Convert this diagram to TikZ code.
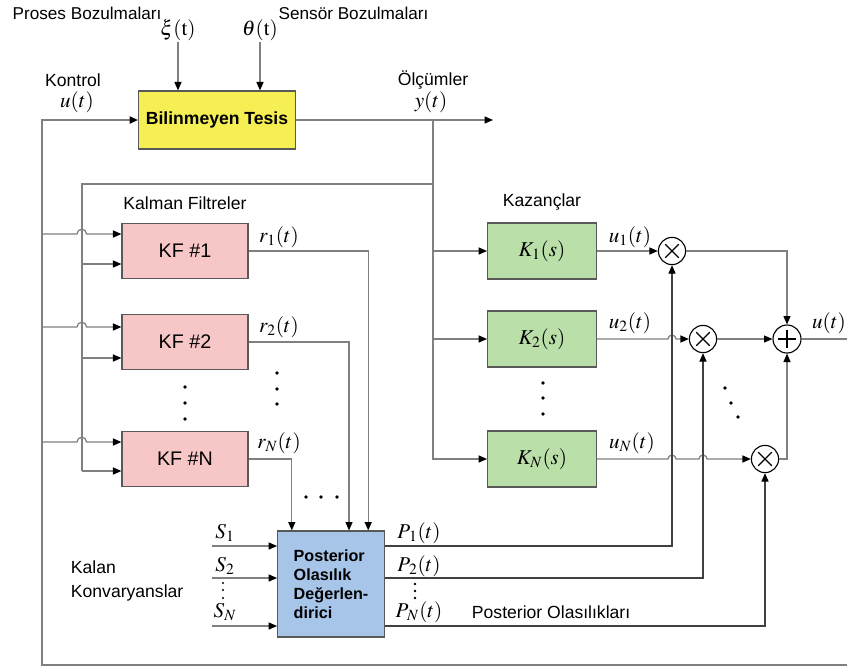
\documentclass[tikz,border=0pt]{standalone}
\usepackage{mathptmx}
\usepackage[no-math]{fontspec}
\setmainfont{Liberation Sans}
\usetikzlibrary{positioning,arrows.meta}

\definecolor{tesisyellow}{RGB}{246,239,84}
\definecolor{kfpink}{RGB}{247,199,200}
\definecolor{kgreen}{RGB}{186,223,169}
\definecolor{peblue}{RGB}{167,197,232}
\definecolor{wiregray}{RGB}{128,128,128}

\begin{document}
\begin{tikzpicture}[x=0.025cm,y=-0.025cm,>={Triangle[length=6pt,width=5pt,color=black]},
		font=\fontsize{12.5}{15}\selectfont,
		box/.style={draw=black!65,line width=0.8pt},
		plant/.style={box,fill=tesisyellow,minimum width=3.92cm,minimum height=1.45cm,font=\fontsize{12.5}{15}\selectfont\bfseries},
		kf/.style={box,fill=kfpink,minimum width=3.15cm,minimum height=1.375cm,font=\fontsize{14}{16}\selectfont},
		gain/.style={box,fill=kgreen,minimum width=2.72cm,minimum height=1.4cm,font=\fontsize{15}{17}\selectfont},
		post/.style={box,fill=peblue,minimum width=2.67cm,minimum height=2.65cm,align=left,font=\fontsize{11.5}{13.4}\selectfont\bfseries},
		mult/.style={circle,draw,line width=0.8pt,fill=white,minimum size=0.68cm,inner sep=0pt,
			path picture={\draw[line width=0.8pt] (path picture bounding box.center) +(-0.17cm,-0.17cm) -- +(0.17cm,0.17cm) +(-0.17cm,0.17cm) -- +(0.17cm,-0.17cm);}},
		adder/.style={circle,draw,line width=0.8pt,fill=white,minimum size=0.7cm,inner sep=0pt,
			path picture={\draw[line width=1pt] (path picture bounding box.center) +(-0.22cm,0) -- +(0.22cm,0) +(0,-0.22cm) -- +(0,0.22cm);}},
		mth/.style={font=\fontsize{15}{17}\selectfont,inner sep=0.5pt},
		wire/.style={draw=wiregray,line width=0.9pt},
		pwire/.style={draw=black!75,line width=0.8pt},
		fb/.style={draw=wiregray,line width=1.3pt}]
	\useasboundingbox (0,0) rectangle (847,667);

	% blocks
	\node[plant] (plant) at (217,120) {Bilinmeyen Tesis};
	\node[kf] (kf1) at (185,251) {KF \#1};
	\node[kf] (kf2) at (185,342) {KF \#2};
	\node[kf] (kfn) at (185,459) {KF \#N};
	\node[gain] (k1) at (542,251) {$K_1(s)$};
	\node[gain] (k2) at (542,339) {$K_2(s)$};
	\node[gain] (kn) at (542,459) {$K_N(s)$};
	\node[mult] (m1) at (672,251) {};
	\node[mult] (m2) at (703,339) {};
	\node[mult] (mn) at (765,459) {};
	\node[adder] (sum) at (787,339) {};
	\node[post] (pe) at (331,584) {Posterior\\Olasılık\\Değerlen-\\dirici};

	% labels
	\node[anchor=west,inner sep=1pt,font=\fontsize{12.2}{15}\selectfont] (lproses) at (11,13) {Proses Bozulmaları};
	\node[anchor=west,inner sep=1pt,font=\fontsize{12.2}{15}\selectfont] (lsensor) at (277,13) {Sensör Bozulmaları};
	\node[mth] (xi) at (178,30) {$\xi(\mathrm{t})$};
	\node[mth] (theta) at (260,30) {$\theta(\mathrm{t})$};
	\node (lkontrol) at (73,80) {Kontrol};
	\node[mth] (lu) at (77,102) {$u(t)$};
	\node (lolcum) at (433,80) {Ölçümler};
	\node[mth] (ly) at (431,102) {$y(t)$};
	\node[above=6pt of kf1] (lkf) {Kalman Filtreler};
	\node[above=5pt of k1] (lkaz) {Kazançlar};
	\node[mth] (lr1) at (279,237) {$r_1(t)$};
	\node[mth] (lr2) at (279,327) {$r_2(t)$};
	\node[mth] (lrn) at (279,443) {$r_N(t)$};
	\node[mth] (lu1) at (630,237) {$u_1(t)$};
	\node[mth] (lu2) at (630,323) {$u_2(t)$};
	\node[mth] (lun) at (632,443) {$u_N(t)$};
	\node[mth] (lsum) at (829,323) {$u(t)$};
	\node[mth] (ls1) at (225,533) {$S_1$};
	\node[mth] (ls2) at (225,566) {$S_2$};
	\node[mth] (lsn) at (225,612) {$S_N$};
	\node[mth] (lp1) at (419,533) {$P_{\kern1pt 1}(t)$};
	\node[mth] (lp2) at (419,566) {$P_{\kern1pt 2}(t)$};
	\node[mth] (lpn) at (419,612) {$P_{\kern1pt N}(t)$};
	\node[anchor=west] (lpost) at (467,612) {Posterior Olasılıkları};
	\node[anchor=west,align=left,font=\fontsize{12.5}{17}\selectfont] (lkalan) at (66,581) {Kalan\\Konvaryanslar};

	% plant in/out
	\coordinate (fbtop) at (42,120);
	\coordinate (fbend) at (847,665);
	\coordinate (ytap) at (433,120);
	\coordinate (yend) at (493,120);
	\coordinate (ybus) at (82,184);
	\draw[wire,->] (xi) -- (xi |- plant.north);
	\draw[wire,->] (theta) -- (theta |- plant.north);
	\draw[fb,->] (fbend) -| (fbtop) -- (plant.west);
	\draw[wire,->] (plant.east) -- (yend);

	% filter inputs
	\foreach \n/\yc/\ym in {1/234/264,2/327/358,n/442/471}{
		\coordinate (cu\n) at (42,\yc);
		\coordinate (cy\n) at (82,\ym);
		\draw[wire,->] (cu\n) -- ++(35,0) arc[start angle=180,end angle=0,radius=0.12cm] -- (kf\n.west |- cu\n);
		\draw[wire,->] (cy\n) -- (kf\n.west |- cy\n);
	}
	\draw[wire] (ytap |- ybus) -- (ybus) -- (cyn);

	% gains
	\draw[wire,->] (ytap) |- (kn.west);
	\draw[wire,->] (ytap |- k1.west) -- (k1.west);
	\draw[wire,->] (ytap |- k2.west) -- (k2.west);
	\draw[wire,->] (k1.east) -- (m1.west);
	\draw[wire,->] (k2.east) -- (668,339) arc[start angle=180,end angle=0,radius=0.1cm] -- (m2.west);
	\draw[wire,->] (kn.east) -- (668,459) arc[start angle=180,end angle=0,radius=0.1cm]
		-- (699,459) arc[start angle=180,end angle=0,radius=0.1cm] -- (mn.west);
	\draw[wire,->] (m1.east) -| (sum.north);
	\draw[wire,->] (m2.east) -- (sum.west);
	\draw[wire,->] (mn.east) -| (sum.south);
	\draw[wire] (sum.east) -- (847,339);

	% residuals to the estimator
	\draw[wire,->] (kf1.east) -| ([xshift=0.93cm]pe.north);
	\draw[wire,->] (kf2.east) -| ([xshift=0.45cm]pe.north);
	\draw[wire,->] (kfn.east) -| ([xshift=-0.98cm]pe.north);

	% covariances in, probabilities out
	\coordinate (s1) at (212,546);
	\coordinate (s2) at (212,578);
	\coordinate (sn) at (212,626);
	\draw[wire,->] (s1) -- (s1 -| pe.west);
	\draw[wire,->] (s2) -- (s2 -| pe.west);
	\draw[wire,->] (sn) -- (sn -| pe.west);
	\draw[pwire,->] (s1 -| pe.east) -| (m1.south);
	\draw[pwire,->] (s2 -| pe.east) -| (m2.south);
	\draw[pwire,->] (sn -| pe.east) -| (mn.south);

	% dots
	\foreach \y in {387,403,419} \fill (185,\y) circle (1.8);
	\foreach \y in {373,389,404} \fill (277,\y) circle (1.8);
	\foreach \x in {306,321,337} \fill (\x,497) circle (1.8);
	\foreach \y in {383,398,414} \fill (543,\y) circle (1.8);
	\fill (725,388) circle (1.8) (731,403) circle (1.8) (738,417) circle (1.8);
	\foreach \y in {584,591,598} \fill (415,\y) circle (1.4);
	\foreach \y in {583,590,598} \fill (223,\y) circle (1.2);
\end{tikzpicture}
\end{document}
